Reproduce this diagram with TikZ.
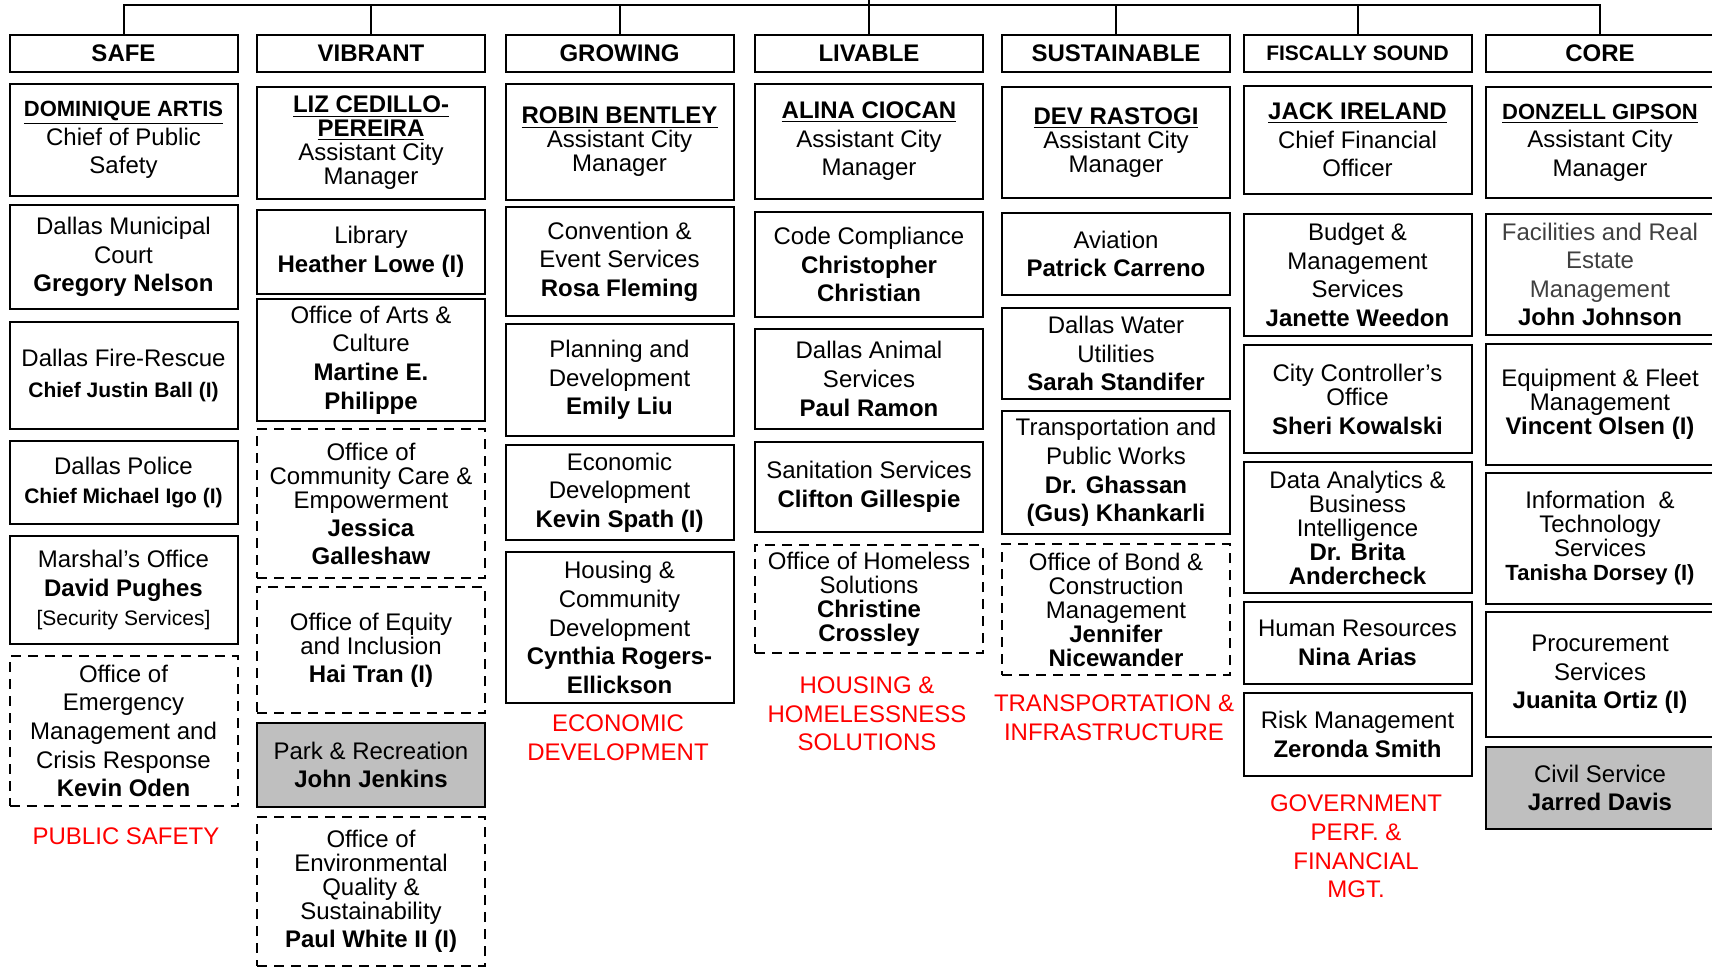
\documentclass[tikz,border=0pt]{standalone}
\usepackage{fontspec}
\setmainfont{Liberation Sans}
\usepackage{xcolor}

\newcommand{\acm}[1]{\textbf{\underline{#1}}}
\newcommand{\lessbf}[1]{{\fontsize{10.5}{12}\selectfont\textbf{#1}}}

\begin{document}
\begin{tikzpicture}[x=0.5pt, y=-0.5pt]
    \tikzstyle{pillar} = [rectangle, draw, line width=1pt, minimum width=114pt, minimum height=18.5pt, inner sep=0pt, font=\bfseries\fontsize{12}{14}\selectfont]
    \tikzstyle{office} = [rectangle, draw, line width=1pt, minimum width=114pt, inner sep=0pt, align=center, font=\fontsize{12}{14.3}\selectfont]
    \tikzstyle{tight} = [font=\fontsize{12}{12}\selectfont]
    \tikzstyle{acting} = [dash pattern=on 5pt off 3.5pt]
    \tikzstyle{greyed} = [fill=black!25]
    \tikzstyle{deptlabel} = [align=center, text=red, inner sep=0pt, font=\fontsize{12}{14.3}\selectfont]
    \tikzset{tall/.style={minimum height=#1*0.5pt}}

    \useasboundingbox (0,0) rectangle (1712,969);

    % Pillars
    \node[pillar] (safe) at (123.5,53.5) {SAFE};
    \node[pillar] (vibrant) at (371,53.5) {VIBRANT};
    \node[pillar] (growing) at (619.5,53.5) {GROWING};
    \node[pillar] (livable) at (869,53.5) {LIVABLE};
    \node[pillar] (sustainable) at (1116,53.5) {SUSTAINABLE};
    \node[pillar, font=\bfseries\fontsize{10.5}{12}\selectfont] (fiscal) at (1357.5,53.5) {FISCALLY SOUND};
    \node[pillar] (core) at (1600,53.5) {CORE};

    % Connectors
    \coordinate (bus) at (869,5);
    \coordinate (mayor) at (869,-5);
    \draw[line width=1pt] (livable.north) -- (mayor);
    \foreach \p in {safe,vibrant,growing,sustainable,fiscal,core}
        \draw[line width=1pt] (\p.north) |- (bus);

    % Safe
    \node[office, tall=112] (artis) at (123.5,140) {{\fontsize{11}{14}\selectfont\acm{DOMINIQUE ARTIS}}\\Chief of Public\\Safety};
    \node[office, tall=104] (court) at (123.5,257) {Dallas Municipal\\Court\\\textbf{Gregory Nelson}};
    \node[office, tall=107] (fire) at (123.5,375.5) {Dallas Fire-Rescue\\[1pt]\lessbf{Chief Justin Ball (I)}};
    \node[office, tall=83] (police) at (123.5,482.5) {Dallas Police\\\lessbf{Chief Michael Igo (I)}};
    \node[office, tall=108] (marshal) at (123.5,590) {Marshal’s Office\\\textbf{David Pughes}\\{\fontsize{10.5}{12}\selectfont [Security Services]}};
    \node[office, acting, tall=150] (oem) at (123.5,731) {Office of\\Emergency\\Management and\\Crisis Response\\\textbf{Kevin Oden}};
    \node[deptlabel] (lsafe) at (126,836) {PUBLIC SAFETY};

    % Vibrant
    \node[office, tight, tall=112] (cedillo) at (371,143) {\acm{LIZ CEDILLO-}\\\acm{PEREIRA}\\Assistant City\\Manager};
    \node[office, tall=84] (library) at (371,252) {Library\\\textbf{Heather Lowe (I)}};
    \node[office, tall=122] (arts) at (371,360) {Office of Arts \&\\Culture\\\textbf{Martine E.}\\\textbf{Philippe}};
    \node[office, tight, acting, tall=149] (care) at (371,503.5) {Office of\\Community Care \&\\Empowerment\\[2pt]\textbf{Jessica}\\[2pt]\textbf{Galleshaw}};
    \node[office, tight, acting, tall=126] (equity) at (371,650) {Office of Equity\\and Inclusion\\[2pt]\textbf{Hai Tran (I)}};
    \node[office, greyed, tall=84] (parks) at (371,765) {Park \& Recreation\\\textbf{John Jenkins}};
    \node[office, tight, acting, tall=149] (oeqs) at (371,891.5) {Office of\\Environmental\\Quality \&\\Sustainability\\[2pt]\textbf{Paul White II (I)}};

    % Growing
    \node[office, tight, tall=116] (bentley) at (619.5,142) {\acm{ROBIN BENTLEY}\\Assistant City\\Manager};
    \node[office, tall=109] (convention) at (619.5,261.5) {Convention \&\\Event Services\\\textbf{Rosa Fleming}};
    \node[office, tall=112] (planning) at (619.5,380) {Planning and\\Development\\\textbf{Emily Liu}};
    \node[office, tall=95] (econ) at (619.5,492.5) {Economic\\Development\\\textbf{Kevin Spath (I)}};
    \node[office, tall=151] (housing) at (619.5,627.5) {Housing \&\\Community\\Development\\\textbf{Cynthia Rogers-}\\\textbf{Ellickson}};
    \node[deptlabel] (lecon) at (618,737.5) {ECONOMIC\\DEVELOPMENT};

    % Livable
    \node[office, tall=115] (ciocan) at (869,141.5) {\acm{ALINA CIOCAN}\\Assistant City\\Manager};
    \node[office, tall=105] (code) at (869,264.5) {Code Compliance\\\textbf{Christopher}\\\textbf{Christian}};
    \node[office, tall=100] (animal) at (869,379) {Dallas Animal\\Services\\\textbf{Paul Ramon}};
    \node[office, tall=90] (sanitation) at (869,487) {Sanitation Services\\\textbf{Clifton Gillespie}};
    \node[office, tight, acting, tall=108] (homeless) at (869,599) {Office of Homeless\\Solutions\\\textbf{Christine}\\\textbf{Crossley}};
    \node[deptlabel] (lhousing) at (867,714) {HOUSING \&\\HOMELESSNESS\\SOLUTIONS};

    % Sustainable
    \node[office, tight, tall=111] (rastogi) at (1116,142.5) {\acm{DEV RASTOGI}\\Assistant City\\Manager};
    \node[office, tall=82] (aviation) at (1116,254) {Aviation\\\textbf{Patrick Carreno}};
    \node[office, tall=91] (water) at (1116,353.5) {Dallas Water\\Utilities\\\textbf{Sarah Standifer}};
    \node[office, tall=123] (tpw) at (1116,472.5) {Transportation and\\Public Works\\\textbf{Dr. Ghassan}\\\textbf{(Gus) Khankarli}};
    \node[office, tight, acting, tall=131] (bond) at (1116,609.5) {Office of Bond \&\\Construction\\Management\\\textbf{Jennifer}\\\textbf{Nicewander}};
    \node[deptlabel] (ltransport) at (1114,718) {TRANSPORTATION \&\\INFRASTRUCTURE};

    % Fiscally sound
    \node[office, tall=108] (ireland) at (1357.5,140) {\acm{JACK IRELAND}\\Chief Financial\\Officer};
    \node[office, tall=122] (budget) at (1357.5,275) {Budget \&\\Management\\Services\\\textbf{Janette Weedon}};
    \node[office, tight, tall=108] (controller) at (1357.5,399) {City Controller’s\\Office\\[2.5pt]\textbf{Sheri Kowalski}};
    \node[office, tight, tall=131] (data) at (1357.5,527.5) {Data Analytics \&\\Business\\Intelligence\\\textbf{Dr. Brita}\\\textbf{Andercheck}};
    \node[office, tall=82] (hr) at (1357.5,643) {Human Resources\\\textbf{Nina Arias}};
    \node[office, tall=83] (risk) at (1357.5,734.5) {Risk Management\\\textbf{Zeronda Smith}};
    \node[deptlabel] (lgov) at (1356,846.5) {GOVERNMENT\\PERF. \&\\FINANCIAL\\MGT.};

    % Core
    \node[office, tall=111] (gipson) at (1600,142.5) {{\fontsize{11}{14}\selectfont\acm{DONZELL GIPSON}}\\Assistant City\\Manager};
    \node[office, text=black!75, tall=121] (facilities) at (1600,274.5) {Facilities and Real\\Estate\\Management\\\textcolor{black}{\textbf{John Johnson}}};
    \node[office, tight, tall=121] (equipment) at (1600,404.5) {Equipment \& Fleet\\Management\\\textbf{Vincent Olsen (I)}};
    \node[office, tight, tall=131] (its) at (1600,538.5) {Information~\ \&\\Technology\\Services\\{\fontsize{11}{12}\selectfont\textbf{Tanisha Dorsey (I)}}};
    \node[office, tall=125] (procurement) at (1600,674.5) {Procurement\\Services\\\textbf{Juanita Ortiz (I)}};
    \node[office, greyed, tall=82] (civil) at (1600,788) {Civil Service\\\textbf{Jarred Davis}};
\end{tikzpicture}
\end{document}
